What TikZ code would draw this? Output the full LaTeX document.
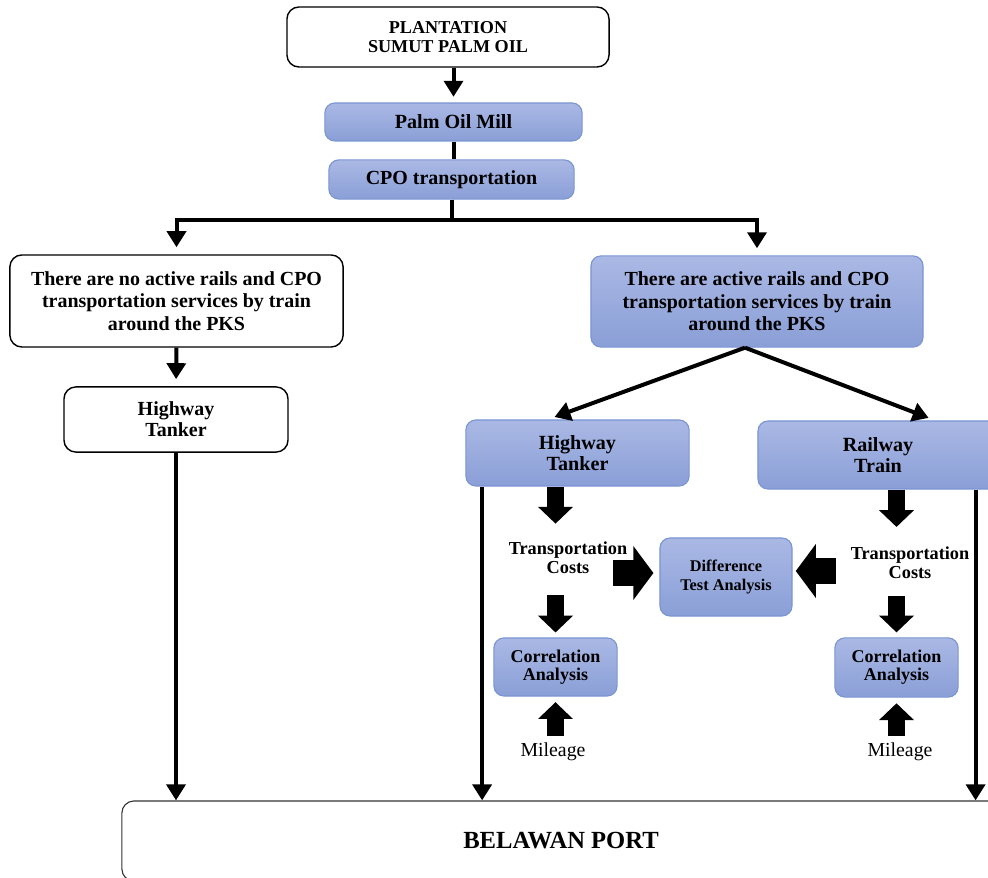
\documentclass[tikz,border=0pt]{standalone}
\usepackage{fontspec}
\setmainfont{Liberation Serif}
\usetikzlibrary{arrows.meta}
\definecolor{boxtop}{HTML}{AAB8E4}
\definecolor{boxbot}{HTML}{8A9FD7}
\definecolor{boxline}{HTML}{7A95D2}

\begin{document}
\begin{tikzpicture}[
            x=0.025cm, y=-0.025cm,
            every node/.style={align=center},
            wbox/.style={rectangle, draw=black, line width=1pt, rounded corners=0.3cm, fill=white},
            bbox/.style={rectangle, draw=boxline, line width=0.8pt, rounded corners=0.25cm, top color=boxtop, bottom color=boxbot},
            plain/.style={inner sep=0pt},
            arrow/.style={line width=0.1cm, -{Triangle[length=0.4cm, width=0.47cm]}},
            link/.style={line width=0.1cm},
            fat/.style={line width=0.43cm, -{Triangle[length=0.42cm, width=0.85cm]}},
            bigfat/.style={line width=0.66cm, -{Triangle[length=0.5cm, width=1.32cm]}}
        ]
        \useasboundingbox (0,0) rectangle (988,878);

        % top of the chain
        \node[wbox, minimum width=8.05cm, minimum height=1.5cm, font=\fontsize{12.9}{13.5}\selectfont\bfseries] (plant) at (448,37) {PLANTATION\\SUMUT PALM OIL};
        \node[bbox, minimum width=6.43cm, minimum height=0.95cm, font=\fontsize{14.3}{15}\selectfont\bfseries] (mill) at (453.5,122) {Palm Oil Mill};
        \node[bbox, minimum width=6.13cm, minimum height=0.98cm, font=\fontsize{14.2}{15}\selectfont\bfseries] (cpo) at (451.5,179.5) {CPO transportation};

        % the two cases
        \node[wbox, minimum width=8.33cm, minimum height=2.3cm, font=\fontsize{14.2}{16}\selectfont\bfseries] (norail) at (176.5,301) {There are no active rails and CPO\\transportation services by train\\around the PKS};
        \node[bbox, minimum width=8.3cm, minimum height=2.28cm, font=\fontsize{14.2}{16}\selectfont\bfseries] (rail) at (757,301.5) {There are active rails and CPO\\transportation services by train\\around the PKS};

        \node[wbox, minimum width=5.6cm, minimum height=1.63cm, font=\fontsize{14.2}{14.7}\selectfont\bfseries] (tankL) at (176,419.5) {Highway\\Tanker};
        \node[bbox, minimum width=5.58cm, minimum height=1.65cm, font=\fontsize{14.3}{14.7}\selectfont\bfseries] (tankR) at (577.5,453) {Highway\\Tanker};
        \node[bbox, minimum width=6cm, minimum height=1.7cm, font=\fontsize{14.3}{14.7}\selectfont\bfseries] (train) at (878,455) {Railway\\Train};

        % analysis part
        \node[plain, font=\fontsize{13}{13.7}\selectfont\bfseries] (costL) at (568,558) {Transportation\\Costs};
        \node[plain, font=\fontsize{13}{13.7}\selectfont\bfseries] (costR) at (910,563) {Transportation\\Costs};
        \node[bbox, minimum width=3.3cm, minimum height=1.95cm, font=\fontsize{11.6}{13}\selectfont\bfseries] (diff) at (726,577) {Difference\\Test Analysis};
        \node[bbox, minimum width=3.08cm, minimum height=1.45cm, font=\fontsize{12.8}{13}\selectfont\bfseries] (corrL) at (555.5,667) {Correlation\\Analysis};
        \node[bbox, minimum width=3.08cm, minimum height=1.48cm, font=\fontsize{12.8}{13}\selectfont\bfseries] (corrR) at (896.5,667.5) {Correlation\\Analysis};
        \node[plain, font=\fontsize{14.1}{15}\selectfont] (mileL) at (553,752) {Mileage};
        \node[plain, font=\fontsize{14.1}{15}\selectfont] (mileR) at (900,752) {Mileage};

        \node[wbox, draw=black!80, line width=0.8pt, minimum width=21.95cm, minimum height=2cm, font=\fontsize{17.5}{19}\selectfont\bfseries] (port) at (561,841) {BELAWAN PORT};

        \coordinate (leftdrop) at ([xshift=0.42cm]tankR.south west);
        \coordinate (rightdrop) at ([xshift=-0.575cm]train.south east);

        % connectors
        \draw[arrow, shorten >=4pt] (mill.north |- plant.south) -- (mill.north);
        \draw[link] (mill.south) -- (mill.south |- cpo.north);
        \draw[arrow, shorten >=5pt] (cpo.south) -- ++(0,20) -| (norail.north);
        \draw[arrow, shorten >=5pt] (cpo.south) -- ++(0,20) -| (rail.north);
        \draw[arrow, shorten >=5pt] (norail.south) -- (tankL.north);
        \draw[arrow] (tankL.south) -- (tankL.south |- port.north);
        \draw[arrow, shorten >=5pt] ([xshift=-0.3cm]rail.south) -- ([xshift=-0.74cm]tankR.north);
        \draw[arrow, shorten >=5pt] ([xshift=-0.3cm]rail.south) -- ([xshift=1.43cm]train.north);
        \draw[arrow] (leftdrop) -- (leftdrop |- port.north);
        \draw[arrow] (rightdrop) -- (rightdrop |- port.north);

        % block arrows
        \draw[fat, shorten >=12.8pt] (tankR.south -| corrL.north) -- (costL.north -| corrL.north);
        \draw[fat, shorten <=15pt, shorten >=3.5pt] (costL.south -| corrL.north) -- (corrL.north);
        \draw[fat, shorten <=5pt, shorten >=4pt] (mileL.north -| corrL.south) -- (corrL.south);
        \draw[fat, shorten >=14pt] (train.south -| corrR.north) -- (costR.north -| corrR.north);
        \draw[fat, shorten <=11.5pt, shorten >=3.5pt] (costR.south -| corrR.north) -- (corrR.north);
        \draw[fat, shorten <=5pt, shorten >=4pt] (mileR.north -| corrR.south) -- (corrR.south);
        \draw[bigfat] ([xshift=-1.15cm, yshift=0.1cm]diff.west) -- ([xshift=-0.15cm, yshift=0.1cm]diff.west);
        \draw[bigfat] ([xshift=1.08cm, yshift=0.15cm]diff.east) -- ([xshift=0.08cm, yshift=0.15cm]diff.east);

    \end{tikzpicture}
\end{document}
